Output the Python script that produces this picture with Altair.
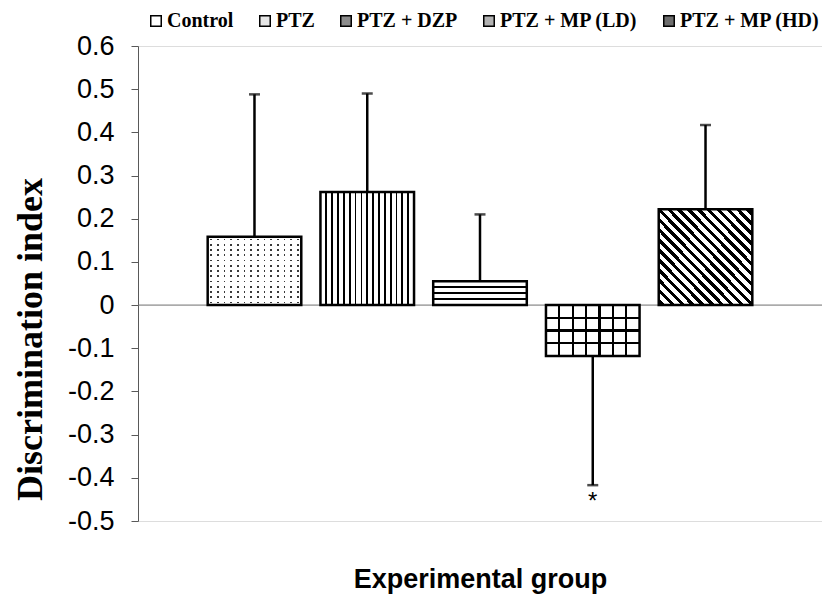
import altair as alt
import pandas as pd

# ---- data ----
groups = ["Control", "PTZ", "PTZ + DZP", "PTZ + MP (LD)", "PTZ + MP (HD)"]
means = [0.158, 0.262, 0.055, -0.118, 0.222]
sems = [0.330, 0.228, 0.155, 0.299, 0.195]
stars = ["", "", "", "*", ""]
y_ticks = [-0.5, -0.4, -0.3, -0.2, -0.1, 0.0, 0.1, 0.2, 0.3, 0.4, 0.5, 0.6]

df = pd.DataFrame({"group": groups, "mean": means, "sem": sems, "star": stars})
df["err_end"] = df["mean"] + df["sem"] * df["mean"].apply(lambda v: 1 if v >= 0 else -1)

SERIF = "Liberation Serif"
SANS = "Liberation Sans"


def stripes(n, frac, ink, paper, x1, y1, x2, y2, centered=False):
    """Linear-gradient stripe pattern (styling only)."""
    half = frac / n / 2.0
    if centered:
        centers = [(k + 0.5) / n for k in range(n)]
    else:
        centers = [k / n for k in range(1, n)]
    stops = [alt.GradientStop(offset=0, color=paper)]
    for c in centers:
        a = round(max(0.0, c - half), 4)
        b = round(min(1.0, c + half), 4)
        stops += [alt.GradientStop(offset=a, color=paper),
                  alt.GradientStop(offset=a, color=ink),
                  alt.GradientStop(offset=b, color=ink),
                  alt.GradientStop(offset=b, color=paper)]
    stops.append(alt.GradientStop(offset=1, color=paper))
    return alt.LinearGradient(gradient="linear", stops=stops, x1=x1, y1=y1, x2=x2, y2=y2)


x_scale = alt.Scale(domain=groups, paddingInner=0.17, paddingOuter=0.618)
y_scale = alt.Scale(domain=[-0.5, 0.6], nice=False, zero=False)

x_axis = alt.Axis(labels=False, ticks=False, domain=False, title="Experimental group",
                  titleFont=SANS, titleFontSize=27, titleFontWeight="bold", titleColor="black",
                  titleBaseline="alphabetic", titleY=66)
y_axis = alt.Axis(values=y_ticks, format=".1~f",
                  labelExpr="replace(datum.label, '\u2212', '-')",
                  labelFont=SANS, labelFontSize=27, labelColor="black", labelPadding=17,
                  tickSize=7, tickColor="#595959", tickWidth=1,
                  domainColor="#595959", domainWidth=1, grid=False,
                  title="Discrimination index", titleFont=SERIF, titleFontSize=36,
                  titleFontWeight="bold", titleColor="black", titleAngle=270,
                  titleBaseline="alphabetic", titleAlign="center", titleX=-97, titleY=293)


def X():
    return alt.X("group:N", scale=x_scale, axis=x_axis, title="Experimental group")


def Y(field):
    return alt.Y(field, type="quantitative", scale=y_scale, axis=y_axis, title="Discrimination index")


base = alt.Chart(df)

zero_line = base.transform_filter(alt.datum.group == groups[0]).mark_rule(
    color="#6f6f6f", strokeWidth=1).encode(y=alt.datum(0, scale=y_scale, axis=y_axis))

whisker = base.mark_rule(color="black", strokeWidth=2.5).encode(
    x=X(), y=Y("mean"), y2="err_end")
cap = base.mark_tick(color="black", thickness=2.5, size=11).encode(x=X(), y=Y("err_end"))

legend_bars = base.mark_bar().encode(
    x=X(), y=Y("mean"),
    color=alt.Color("group:N",
                    scale=alt.Scale(domain=groups,
                                    range=["white", "#e6e6e6", "#8c8c8c", "#b3b3b3", "#6e6e6e"]),
                    legend=alt.Legend(title=None, orient="none", direction="horizontal",
                                      legendX=8, legendY=-35, padding=0,
                                      symbolType="square", symbolSize=110,
                                      symbolStrokeColor="black", symbolStrokeWidth=1.5,
                                      labelFont=SERIF, labelFontSize=20, labelFontWeight="bold",
                                      labelColor="black", labelOffset=1, labelLimit=300,
                                      columnPadding=21)))


def pattern(group, fill):
    return base.transform_filter(alt.datum.group == group).mark_bar(fill=fill).encode(
        x=X(), y=Y("mean"))


patterns = [
    # Control: dots (vertical ink lines masked by white rows with gaps)
    pattern(groups[0], stripes(14, 0.24, "#3a3a3a", "white", 0, 0, 1, 0, centered=True)),
    pattern(groups[0], stripes(13, 0.30, "transparent", "white", 0, 0, 0, 1, centered=True)),
    # PTZ: vertical lines
    pattern(groups[1], stripes(16, 0.30, "black", "white", 0, 0, 1, 0)),
    # PTZ + DZP: horizontal lines
    pattern(groups[2], stripes(4, 0.28, "black", "white", 0, 0, 0, 1)),
    # PTZ + MP (LD): grid
    pattern(groups[3], stripes(7, 0.16, "black", "white", 0, 0, 1, 0)),
    pattern(groups[3], stripes(4, 0.17, "black", "transparent", 0, 0, 0, 1)),
    # PTZ + MP (HD): diagonal hatch
    pattern(groups[4], stripes(19, 0.45, "black", "white", 0, 1, 1, 0, centered=True)),
]

outline = base.mark_bar(fill="white", fillOpacity=0, stroke="black", strokeWidth=2.5).encode(
    x=X(), y=Y("mean"))

star_text = base.mark_text(font=SANS, fontSize=24, color="black", baseline="middle", dy=17).encode(
    x=X(), y=Y("err_end"), text="star:N")

chart = alt.layer(zero_line, whisker, cap, legend_bars, *patterns, outline, star_text).properties(
    width=684, height=475,
    padding={"left": 130, "top": 38, "right": 0, "bottom": 74},
    autosize=alt.AutoSizeParams(type="none"),
).configure_view(strokeWidth=0).configure(background="white")

chart.save("out.html", embed_options={"renderer": "svg", "actions": False})
